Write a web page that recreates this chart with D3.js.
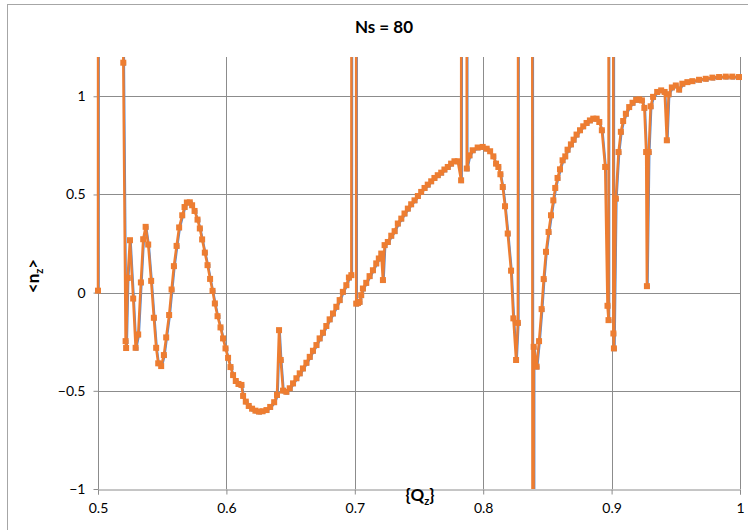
<!DOCTYPE html>
<html>
<head>
<meta charset="utf-8">
<script src="https://cdn.jsdelivr.net/npm/d3@7"></script>
<style>
body { margin: 0; background: #fff; }
svg { display: block; }
text { font-family: Lato, "Open Sans", sans-serif; fill: #000; }
</style>
</head>
<body>
<svg width="748" height="530"></svg>
<script>
// {Qz} values (x) and <nz> values (y); values of +-8 are off-scale points
var qz = [
  0.5, 0.5004, 0.5195, 0.5197, 0.5215, 0.5219, 0.5231, 0.5249, 0.5274, 0.5293,
  0.5313, 0.5334, 0.5352, 0.5371, 0.5391, 0.5414, 0.5435, 0.5453, 0.5469, 0.5492,
  0.5513, 0.5531, 0.5554, 0.5573, 0.5591, 0.5612, 0.5632, 0.5656, 0.5674, 0.5692,
  0.5715, 0.5733, 0.5752, 0.5775, 0.5793, 0.5811, 0.5832, 0.5853, 0.5873, 0.5892,
  0.591, 0.5931, 0.5954, 0.5974, 0.5993, 0.6013, 0.6032, 0.6052, 0.6073, 0.6094,
  0.6117, 0.613, 0.6151, 0.6174, 0.62, 0.6226, 0.6254, 0.6281, 0.6312, 0.6341,
  0.6372, 0.6394, 0.641, 0.6423, 0.6441, 0.6467, 0.6493, 0.6519, 0.6545, 0.6571,
  0.6596, 0.6623, 0.6649, 0.6674, 0.6701, 0.6726, 0.6752, 0.6778, 0.6804, 0.683,
  0.6856, 0.6882, 0.6907, 0.6934, 0.6954, 0.6973, 0.6978, 0.7008, 0.7011, 0.7024,
  0.7037, 0.705, 0.7063, 0.7089, 0.7115, 0.7141, 0.7167, 0.7187, 0.7206, 0.7219,
  0.7232, 0.7257, 0.7284, 0.731, 0.7335, 0.7362, 0.7387, 0.7413, 0.7439, 0.7465,
  0.7491, 0.7517, 0.7543, 0.7568, 0.7595, 0.762, 0.7646, 0.7673, 0.7698, 0.7724,
  0.775, 0.7776, 0.7802, 0.7828, 0.7835, 0.7869, 0.7872, 0.7893, 0.7918, 0.7957,
  0.7996, 0.8027, 0.8054, 0.8079, 0.81, 0.8118, 0.8134, 0.8152, 0.817, 0.8191,
  0.8217, 0.8235, 0.8256, 0.827, 0.8279, 0.8378, 0.8388, 0.8393, 0.8416, 0.8435,
  0.8455, 0.8471, 0.8489, 0.8509, 0.8528, 0.8546, 0.8561, 0.8579, 0.8598, 0.8618,
  0.8639, 0.8657, 0.8683, 0.8704, 0.8727, 0.8754, 0.8779, 0.8805, 0.8831, 0.8857,
  0.8883, 0.8904, 0.8924, 0.895, 0.8968, 0.8976, 0.8979, 0.9011, 0.9014, 0.9018,
  0.9033, 0.9054, 0.9072, 0.909, 0.9111, 0.9137, 0.9163, 0.9191, 0.9215, 0.9236,
  0.9255, 0.9269, 0.9275, 0.9289, 0.9304, 0.9323, 0.9355, 0.9386, 0.9413, 0.943,
  0.9444, 0.9469, 0.95, 0.9526, 0.9551, 0.959, 0.9629, 0.9681, 0.9733, 0.9785,
  0.9837, 0.9889, 0.994, 0.9992
];
var nz = [
  0.01, 8, 8, 1.171, -0.247, -0.282, 0.075, 0.267, -0.03, -0.281,
  -0.213, 0.052, 0.272, 0.335, 0.245, 0.06, -0.128, -0.281, -0.36, -0.374,
  -0.318, -0.228, -0.114, 0.016, 0.135, 0.238, 0.332, 0.394, 0.436, 0.459,
  0.46, 0.445, 0.416, 0.372, 0.327, 0.271, 0.204, 0.14, 0.07, 0.009,
  -0.055, -0.12, -0.177, -0.233, -0.284, -0.332, -0.379, -0.42, -0.45, -0.465,
  -0.47, -0.526, -0.555, -0.577, -0.591, -0.601, -0.606, -0.604, -0.598, -0.582,
  -0.558, -0.521, -0.191, -0.343, -0.499, -0.505, -0.487, -0.462, -0.436, -0.411,
  -0.386, -0.357, -0.327, -0.296, -0.267, -0.233, -0.204, -0.17, -0.136, -0.106,
  -0.072, -0.038, 0.004, 0.038, 0.077, 0.089, 8, 8, -0.056, -0.053,
  -0.047, -0.013, 0.021, 0.05, 0.084, 0.114, 0.149, 0.174, 0.199, 0.064,
  0.242, 0.258, 0.29, 0.313, 0.352, 0.377, 0.403, 0.428, 0.45, 0.47,
  0.492, 0.513, 0.533, 0.55, 0.567, 0.584, 0.598, 0.611, 0.627, 0.64,
  0.657, 0.669, 0.669, 0.572, 8, 8, 0.632, 0.699, 0.725, 0.739,
  0.742, 0.733, 0.72, 0.694, 0.657, 0.64, 0.603, 0.538, 0.44, 0.301,
  0.112, -0.131, -0.343, -0.154, 8, 8, -8, -0.276, -0.377, -0.247,
  -0.084, 0.069, 0.208, 0.309, 0.394, 0.47, 0.533, 0.584, 0.628, 0.674,
  0.694, 0.728, 0.755, 0.779, 0.805, 0.827, 0.847, 0.864, 0.877, 0.886,
  0.886, 0.869, 0.827, 0.64, -0.067, -0.14, 8, 8, -0.208, -0.284,
  0.479, 0.716, 0.819, 0.874, 0.911, 0.945, 0.967, 0.982, 0.984, 0.979,
  0.941, 0.716, 0.033, 0.716, 0.949, 0.997, 1.022, 1.03, 1.022, 0.776,
  1.01, 1.045, 1.055, 1.034, 1.064, 1.072, 1.077, 1.084, 1.089, 1.095,
  1.098, 1.1, 1.1, 1.098
];
var xTicks = [0.5, 0.6, 0.7, 0.8, 0.9, 1];
var yTicks = [-1, -0.5, 0, 0.5, 1];

var svg = d3.select("svg");
var plotLeft = 98, plotRight = 740, plotTop = 57, plotBottom = 489;

var x = d3.scaleLinear().domain([0.5, 1]).range([plotLeft, plotRight]);
var y = d3.scaleLinear().domain([-1, 1.2]).range([plotBottom, plotTop]);

var points = qz.map(function (q, i) { return [q, nz[i]]; });

// chart area border
svg.append("rect")
    .attr("x", 7.5).attr("y", 4.5)
    .attr("width", 760).attr("height", 540)
    .attr("fill", "none").attr("stroke", "#a6a6a6");

// clip only top and bottom, markers at the side edges stay whole
svg.append("defs").append("clipPath").attr("id", "plot")
    .append("rect")
    .attr("x", plotLeft - 5).attr("y", plotTop)
    .attr("width", plotRight - plotLeft + 10).attr("height", plotBottom - plotTop);

// grid
svg.append("g").selectAll("line").data(yTicks.filter(function (d) { return d > -1; }))
    .enter().append("line")
    .attr("x1", plotLeft).attr("x2", plotRight)
    .attr("y1", function (d) { return Math.round(y(d)) + 0.5; })
    .attr("y2", function (d) { return Math.round(y(d)) + 0.5; })
    .attr("stroke", "#8c8c8c");
svg.append("g").selectAll("line").data(xTicks)
    .enter().append("line")
    .attr("y1", plotTop).attr("y2", plotBottom)
    .attr("x1", function (d) { return Math.round(x(d)) + 0.5; })
    .attr("x2", function (d) { return Math.round(x(d)) + 0.5; })
    .attr("stroke", "#8c8c8c");

// axes
var xAxis = svg.append("g")
    .attr("transform", "translate(0," + (Math.round(plotBottom) + 0.5) + ")")
    .call(d3.axisBottom(x).tickValues(xTicks).tickSize(5).tickPadding(9)
        .tickFormat(d3.format("")));
var yAxis = svg.append("g")
    .attr("transform", "translate(" + (plotLeft + 0.5) + ",0)")
    .call(d3.axisLeft(y).tickValues(yTicks).tickSize(5).tickPadding(8)
        .tickFormat(d3.format("")));
[xAxis, yAxis].forEach(function (a) {
    a.select(".domain").attr("stroke", "#8c8c8c");
    a.selectAll(".tick line").attr("stroke", "#8c8c8c");
    a.selectAll("text").style("font-size", "14px").style("font-family", "Lato, sans-serif");
});
yAxis.select(".domain").remove();
yAxis.append("line").attr("y1", plotTop).attr("y2", plotBottom).attr("stroke", "#8c8c8c");

var line = d3.line().x(function (d) { return x(d[0]); }).y(function (d) { return y(d[1]); });

var plot = svg.append("g").attr("clip-path", "url(#plot)");

// blue series peeking out under the orange one
var blue = plot.append("g").attr("transform", "translate(0.8,0.8)");
blue.append("path").datum(points)
    .attr("d", line).attr("fill", "none")
    .attr("stroke", "#5b8bd0").attr("stroke-width", 2);
blue.selectAll("rect").data(points).enter().append("rect")
    .attr("x", function (d) { return x(d[0]) - 2; })
    .attr("y", function (d) { return y(d[1]) - 2; })
    .attr("width", 4).attr("height", 4)
    .attr("fill", "#4f81c7");

var orange = plot.append("g");
orange.append("path").datum(points)
    .attr("d", line).attr("fill", "none")
    .attr("stroke", "#ed7d31").attr("stroke-width", 2.5)
    .attr("stroke-linejoin", "round");
orange.selectAll("rect").data(points).enter().append("rect")
    .attr("x", function (d) { return x(d[0]) - 3; })
    .attr("y", function (d) { return y(d[1]) - 3; })
    .attr("width", 6).attr("height", 6)
    .attr("fill", "#ed7d31");

// titles
svg.append("text")
    .attr("x", 384).attr("y", 33)
    .attr("text-anchor", "middle")
    .style("font-size", "17px").style("font-weight", "bold")
    .text("Ns = 80");

var xt = svg.append("text")
    .attr("x", 420).attr("y", 501)
    .attr("text-anchor", "middle")
    .style("font-size", "17px").style("font-weight", "bold");
xt.append("tspan").text("{Q");
xt.append("tspan").attr("dy", 4).style("font-size", "11px").text("z");
xt.append("tspan").attr("dy", -4).text("}");

var yt = svg.append("text")
    .attr("transform", "translate(39,276) rotate(-90)")
    .attr("text-anchor", "middle")
    .style("font-size", "17px").style("font-weight", "bold");
yt.append("tspan").text("<n");
yt.append("tspan").attr("dy", 4).style("font-size", "11px").text("z");
yt.append("tspan").attr("dy", -4).text(">");
</script>
</body>
</html>
